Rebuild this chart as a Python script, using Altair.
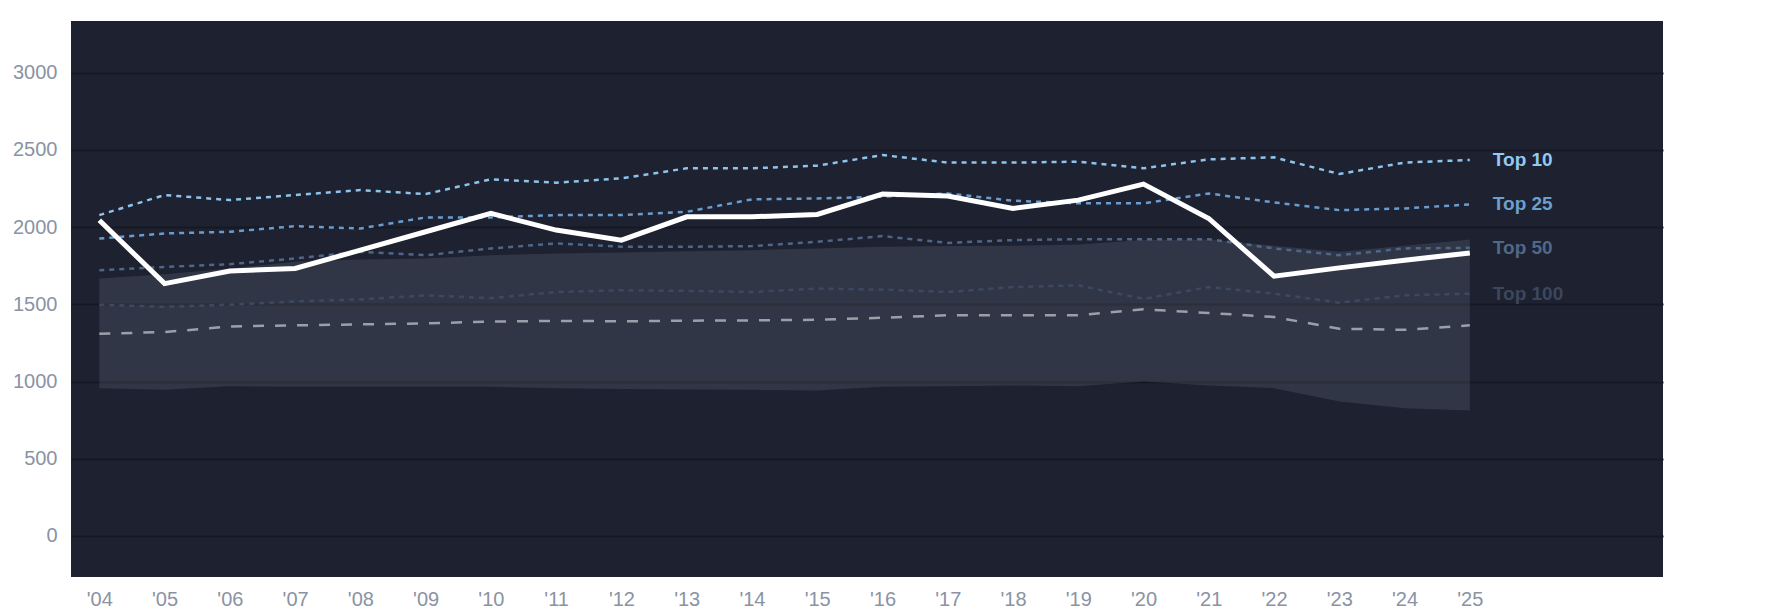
import altair as alt
import pandas as pd

years = list(range(2004, 2026))
highlight = [2045, 1634, 1716, 1732, 1851, 1970, 2089, 1981, 1916, 2067, 2067,
             2082, 2214, 2201, 2121, 2175, 2279, 2056, 1682, 1736, 1786, 1833]
top10 = [2078, 2208, 2175, 2208, 2240, 2214, 2310, 2288, 2316, 2381, 2381,
         2398, 2467, 2418, 2418, 2424, 2381, 2439, 2452, 2344, 2418, 2435]
top25 = [1926, 1959, 1970, 2006, 1991, 2063, 2063, 2078, 2078, 2099, 2180,
         2186, 2197, 2218, 2171, 2154, 2154, 2218, 2160, 2110, 2121, 2147]
top50 = [1721, 1742, 1760, 1797, 1840, 1818, 1862, 1894, 1873, 1873, 1877,
         1905, 1942, 1898, 1916, 1922, 1922, 1922, 1862, 1818, 1862, 1866]
top100 = [1498, 1483, 1498, 1519, 1532, 1558, 1540, 1580, 1591, 1587, 1580,
          1602, 1595, 1580, 1612, 1623, 1535, 1612, 1569, 1511, 1558, 1569]
median = [1310, 1320, 1357, 1364, 1370, 1377, 1388, 1393, 1390, 1394, 1396,
          1400, 1413, 1429, 1429, 1429, 1468, 1444, 1418, 1342, 1335, 1364]
band_hi = [1667, 1695, 1732, 1775, 1790, 1797, 1818, 1829, 1835, 1844, 1851,
           1862, 1873, 1877, 1879, 1888, 1916, 1920, 1880, 1840, 1880, 1920]
band_lo = [957, 946, 970, 966, 966, 966, 966, 957, 952, 948, 946,
           942, 966, 970, 975, 970, 1000, 975, 957, 870, 827, 812]

series_names = ["Top 10", "Top 25", "Top 50", "Top 100"]
series_values = [top10, top25, top50, top100]
series_colors = ["#8ec3ec", "#6a9dcd", "#4e6788", "#3d4962"]
label_colors = ["#93c9f2", "#6c9fcf", "#506888", "#3c475e"]

y_ticks = [0, 500, 1000, 1500, 2000, 2500, 3000]

xscale = alt.Scale(domain=[2003.566, 2027.96], nice=False, zero=False)
yscale = alt.Scale(domain=[-266, 3335], nice=False, zero=False)

xaxis = alt.Axis(values=years, format="d", labelExpr="\"'\" + substring(datum.label, 2)",
                 grid=False, ticks=False, domain=False, labelPadding=12,
                 labelFontSize=20, labelColor="#8a93a4", labelFont="Liberation Sans",
                 title=None, labelFlush=False, labelOverlap=False)
yaxis = alt.Axis(values=y_ticks, format="d", grid=True, gridColor="#161923", gridWidth=2,
                 ticks=False, domain=False, labelPadding=14, labelFontSize=20,
                 labelColor="#8a93a4", labelFont="Liberation Sans", title=None)

band_df = pd.DataFrame({"year": years, "lo": band_lo, "hi": band_hi})
band = alt.Chart(band_df).mark_area(color="#a3adc3", opacity=0.15).encode(
    x=alt.X("year:Q", scale=xscale, axis=xaxis),
    y=alt.Y("lo:Q", scale=yscale, axis=yaxis),
    y2="hi:Q",
)

layers = [band]
for name, vals, col in zip(series_names, series_values, series_colors):
    df = pd.DataFrame({"year": years, "value": vals})
    layers.append(
        alt.Chart(df).mark_line(color=col, strokeWidth=2.5, strokeDash=[5, 5]).encode(
            x=alt.X("year:Q", scale=xscale),
            y=alt.Y("value:Q", scale=yscale),
        )
    )

med_df = pd.DataFrame({"year": years, "value": median})
layers.append(
    alt.Chart(med_df).mark_line(color="#9aa0aa", strokeWidth=2.5, strokeDash=[11, 11]).encode(
        x=alt.X("year:Q", scale=xscale),
        y=alt.Y("value:Q", scale=yscale),
    )
)

hl_df = pd.DataFrame({"year": years, "value": highlight})
layers.append(
    alt.Chart(hl_df).mark_line(color="#ffffff", strokeWidth=5).encode(
        x=alt.X("year:Q", scale=xscale),
        y=alt.Y("value:Q", scale=yscale),
    )
)

lab_df = pd.DataFrame({
    "year": [years[-1]] * 4,
    "value": [v[-1] for v in series_values],
    "name": series_names,
    "color": label_colors,
})
layers.append(
    alt.Chart(lab_df).mark_text(align="left", baseline="middle", dx=23, fontSize=19,
                                fontWeight="bold", font="Liberation Sans").encode(
        x=alt.X("year:Q", scale=xscale),
        y=alt.Y("value:Q", scale=yscale),
        text="name:N",
        color=alt.Color("color:N", scale=None),
    )
)

chart = alt.layer(*layers).properties(
    width=1592, height=556,
    padding={"left": 4, "top": 13, "right": 5, "bottom": 5},
    background="#ffffff",
).configure_view(fill="#1d2130", stroke=None)

chart.save("out.html", embed_options={"renderer": "svg", "actions": False})
